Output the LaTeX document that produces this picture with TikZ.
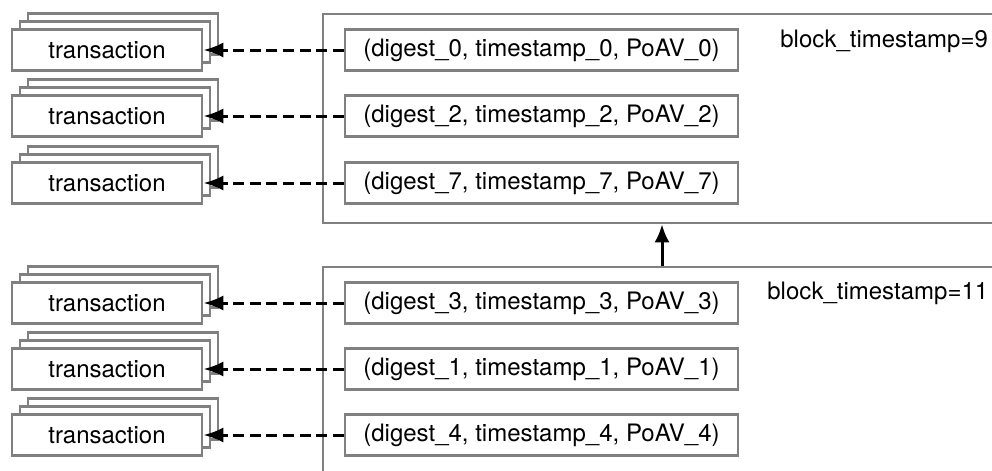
\documentclass[tikz,border=0pt]{standalone}
\usepackage{fontspec}
\setmainfont{TeX Gyre Heros}
\usetikzlibrary{arrows.meta}
\definecolor{boxgray}{RGB}{128,128,128}
\begin{document}
\begin{tikzpicture}[x=0.5pt,y=-0.5pt,
  font=\fontsize{12pt}{14pt}\selectfont,
  frame/.style={draw=boxgray, line width=1.3pt, fill=white, inner sep=0pt},
  txn/.style={frame, minimum width=95pt, minimum height=20.5pt},
  tuple/.style={frame, minimum width=196.5pt, minimum height=20.5pt},
  blockbox/.style={draw=boxgray, line width=1.3pt, inner sep=0pt, minimum width=339pt},
  label/.style={anchor=base west, inner sep=0pt},
  link/.style={line width=1.5pt, dash pattern=on 5.5pt off 2.8pt, -{Latex[length=10pt,width=7.5pt]}},
  chain/.style={line width=1.5pt, -{Latex[length=9pt,width=7.5pt]}}]
\useasboundingbox (0,0) rectangle (992,471);
\clip (0,0) rectangle (992,471);

% the two blocks, running past the right and bottom edges
\node[blockbox, minimum height=104.5pt] (block0) at (662,118.5) {};
\node[blockbox, minimum height=116.5pt] (block1) at (662,383.5) {};
\node[label] (ts0) at (780,47) {block\_timestamp=9};
\node[label] (ts1) at (767,299) {block\_timestamp=11};
\draw[chain] (block1.north) -- (block0.south);

% transaction stacks and the tuples that point to them
\foreach \y/\k/\i in {50/0/1, 116/2/2, 183/7/3, 303/3/4, 369/1/5, 435/4/6} {
  \node[txn] (t\i b) at (123,\y-16) {};
  \node[txn] (t\i m) at (115,\y-8) {};
  \node[txn] (t\i) at (107,\y) {transaction};
  \node[tuple] (d\i) at (541.5,\y) {(digest\_\k, timestamp\_\k, PoAV\_\k)};
  \draw[link] (d\i.west) -- (t\i.east);
}
\end{tikzpicture}
\end{document}
